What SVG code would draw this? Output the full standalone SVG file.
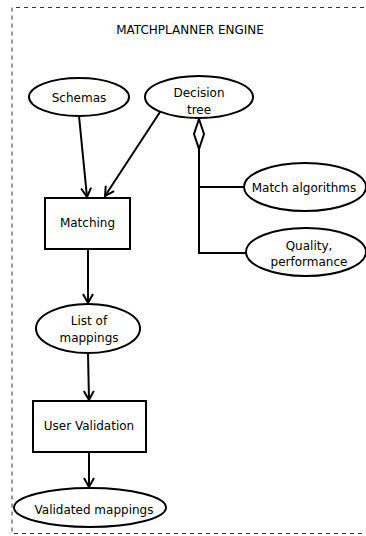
<svg xmlns="http://www.w3.org/2000/svg" width="366" height="536" viewBox="0 0 366 536">
<defs>
<marker id="arrow" markerUnits="userSpaceOnUse" markerWidth="14" markerHeight="14" viewBox="-12 -7 14 14" refX="0" refY="0" orient="auto" overflow="visible">
<path d="M -9 -5 L 0 0 L -9 5" fill="none" stroke="#000" stroke-width="2"/>
</marker>
</defs>
<style>
.shape{fill:#fff;stroke:#000;stroke-width:2}
.lbl{font-family:"DejaVu Sans","Liberation Sans",sans-serif;font-size:12px;fill:#000;text-anchor:middle}
.conn{fill:none;stroke:#000;stroke-width:2}
.arr{marker-end:url(#arrow)}
.frame{fill:none;stroke:#333;stroke-width:1;stroke-dasharray:4 4}
</style>
<path class="frame" d="M 380 7.5 H 12 V 533.5 H 380"/>
<text class="lbl" x="190" y="34">MATCHPLANNER ENGINE</text>
<g id="connectors">
<line class="conn arr" x1="79" y1="116" x2="87" y2="197"/>
<line class="conn arr" x1="160" y1="112" x2="105" y2="196"/>
<line class="conn arr" x1="88" y1="249" x2="88" y2="303"/>
<line class="conn arr" x1="88" y1="353" x2="89" y2="400"/>
<line class="conn arr" x1="89" y1="452" x2="89" y2="487"/>
<polyline class="conn" points="199,148 199,253 247,253"/>
<line class="conn" x1="199" y1="187" x2="245" y2="187"/>
<polygon class="shape" points="199,119 204,134 199,149 194,134"/>
</g>
<g id="schemas">
<ellipse class="shape" cx="79" cy="97" rx="50" ry="19"/>
<text class="lbl" x="79" y="102">Schemas</text>
</g>
<g id="decision-tree">
<ellipse class="shape" cx="199" cy="97" rx="54" ry="21"/>
<text class="lbl" x="199" y="97">Decision</text>
<text class="lbl" x="199" y="114">tree</text>
</g>
<g id="match-algorithms">
<ellipse class="shape" cx="305" cy="187" rx="61" ry="24"/>
<text class="lbl" x="304" y="192">Match algorithms</text>
</g>
<g id="quality">
<ellipse class="shape" cx="306" cy="252" rx="60" ry="24"/>
<text class="lbl" x="309" y="250">Quality,</text>
<text class="lbl" x="309" y="266">performance</text>
</g>
<g id="matching">
<rect class="shape" x="45" y="198" width="85" height="51"/>
<text class="lbl" x="87.5" y="227">Matching</text>
</g>
<g id="list-of-mappings">
<ellipse class="shape" cx="88" cy="328.5" rx="52" ry="24.5"/>
<text class="lbl" x="89" y="325">List of</text>
<text class="lbl" x="89" y="342">mappings</text>
</g>
<g id="user-validation">
<rect class="shape" x="33" y="401" width="113" height="51"/>
<text class="lbl" x="89" y="430">User Validation</text>
</g>
<g id="validated-mappings">
<ellipse class="shape" cx="90" cy="507.5" rx="76" ry="19.5"/>
<text class="lbl" x="94" y="514">Validated mappings</text>
</g>
</svg>
